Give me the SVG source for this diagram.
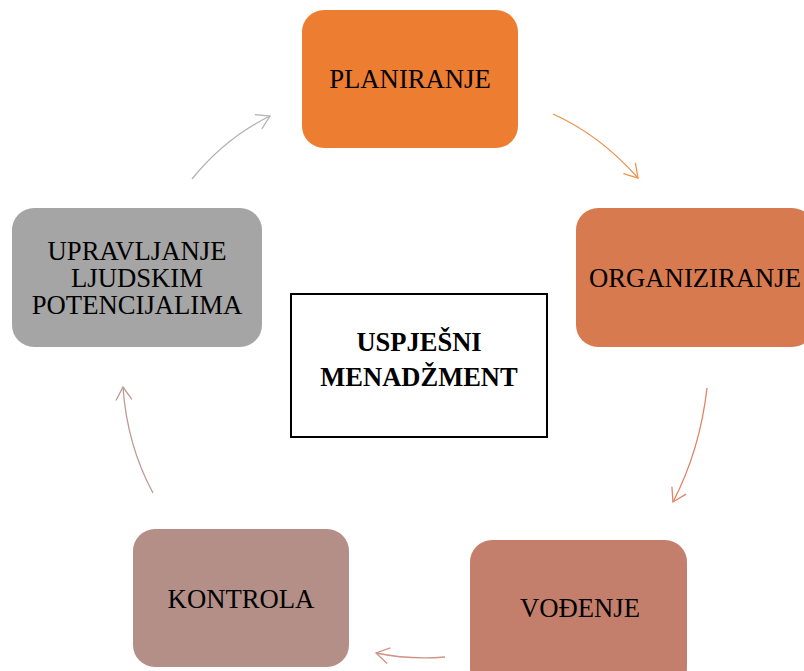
<svg xmlns="http://www.w3.org/2000/svg" width="804" height="671" viewBox="0 0 804 671">
<style>
.t{font-family:"Liberation Serif","Times New Roman",serif;font-size:26.7px;fill:#000;text-anchor:middle}
.b{font-weight:bold;font-size:26.5px}
.c{fill:none;stroke-width:1.3}
</style>
<defs>
<marker id="m1" markerUnits="userSpaceOnUse" markerWidth="30" markerHeight="30" refX="15" refY="15" orient="auto"><path d="M2,7 L15,15 L2,23" fill="none" stroke="#F1924E" stroke-width="1.3"/></marker>
<marker id="m2" markerUnits="userSpaceOnUse" markerWidth="30" markerHeight="30" refX="15" refY="15" orient="auto"><path d="M2,7 L15,15 L2,23" fill="none" stroke="#DD8562" stroke-width="1.3"/></marker>
<marker id="m3" markerUnits="userSpaceOnUse" markerWidth="30" markerHeight="30" refX="15" refY="15" orient="auto"><path d="M2,7 L15,15 L2,23" fill="none" stroke="#CF9382" stroke-width="1.3"/></marker>
<marker id="m4" markerUnits="userSpaceOnUse" markerWidth="30" markerHeight="30" refX="15" refY="15" orient="auto"><path d="M2,7 L15,15 L2,23" fill="none" stroke="#BE9A93" stroke-width="1.3"/></marker>
<marker id="m5" markerUnits="userSpaceOnUse" markerWidth="30" markerHeight="30" refX="15" refY="15" orient="auto"><path d="M2,7 L15,15 L2,23" fill="none" stroke="#B4B4B4" stroke-width="1.3"/></marker>
</defs>
<rect width="804" height="671" fill="#fff"/>
<g id="connectors">
<path class="c" stroke="#F1924E" d="M553,114 Q600,135 638,178" marker-end="url(#m1)"/>
<path class="c" stroke="#DD8562" d="M707,388 Q700,450 673,502" marker-end="url(#m2)"/>
<path class="c" stroke="#CF9382" d="M445,657 Q410,660 376,653" marker-end="url(#m3)"/>
<path class="c" stroke="#BE9A93" d="M153,493 Q127,445 123,387" marker-end="url(#m4)"/>
<path class="c" stroke="#B4B4B4" d="M192,179 Q225,138 270,116" marker-end="url(#m5)"/>
</g>
<g id="planiranje">
<rect x="302" y="10" width="216" height="138" rx="22" fill="#ED7D31"/>
<text class="t" x="410" y="88">PLANIRANJE</text>
</g>
<g id="organiziranje">
<rect x="576" y="208" width="238" height="139" rx="22" fill="#D87A50"/>
<text class="t" x="695" y="287">ORGANIZIRANJE</text>
</g>
<g id="vodjenje">
<rect x="470" y="540" width="217" height="150" rx="22" fill="#C47F6C"/>
<text class="t" x="580" y="617">VOĐENJE</text>
</g>
<g id="kontrola">
<rect x="133" y="529" width="216" height="138" rx="22" fill="#B48F87"/>
<text class="t" x="241" y="608">KONTROLA</text>
</g>
<g id="upravljanje">
<rect x="12" y="208" width="250" height="139" rx="22" fill="#A5A5A5"/>
<text class="t" x="137" y="260">UPRAVLJANJE</text>
<text class="t" x="137" y="287">LJUDSKIM</text>
<text class="t" x="137" y="314">POTENCIJALIMA</text>
</g>
<g id="uspjesni">
<rect x="291" y="294" width="256" height="143" fill="#fff" stroke="#000" stroke-width="2"/>
<text class="t b" x="419" y="351">USPJEŠNI</text>
<text class="t b" x="419" y="386">MENADŽMENT</text>
</g>
</svg>
